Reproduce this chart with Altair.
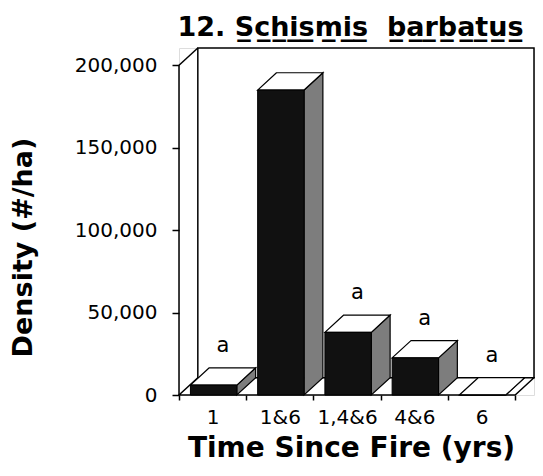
import json
import altair as alt
import pandas as pd

# ---- data ----
categories = ["1", "1&6", "1,4&6", "4&6", "6"]
density = [6000, 185000, 38000, 22500, 0]
letters = ["a", "", "a", "a", "a"]
y_ticks = [0, 50000, 100000, 150000, 200000]

# ---- 3-D geometry (in data units) ----
N = len(categories)
YMAX = 200000
DX = 0.28      # depth offset along x (category units)
DY = 10500     # depth offset along y (density units)
OFF = 0.17     # bar start within category
W = 0.69       # bar front width

FONT = "DejaVu Sans"

xs = alt.Scale(domain=[0, N + DX], nice=False, zero=False)
ys = alt.Scale(domain=[0, YMAX + DY], nice=False, zero=False)

label_list = json.dumps(categories)
xaxis = alt.Axis(
    values=[k * 0.5 for k in range(2 * N + 1)],
    labelExpr=f"datum.value % 1 == 0 ? '' : {label_list}[floor(datum.value)]",
    tickOpacity={"condition": {"test": "datum.value % 1 != 0", "value": 0}, "value": 1},
    domain=False, grid=False, tickSize=5, tickColor="black", tickWidth=1.5,
    labelPadding=7, labelFont=FONT, labelFontSize=20, labelColor="black",
    labelOverlap=False, labelFlush=False, labelBound=False,
    title="Time Since Fire (yrs)", titleFont=FONT, titleFontSize=28,
    titleFontWeight="bold", titleColor="black", titleX=172, titleY=61,
    titleAlign="center", titleBaseline="alphabetic", titleAnchor="middle",
)
yaxis = alt.Axis(
    values=y_ticks, format=",.0f",
    domain=False, grid=False, tickSize=7, tickColor="black", tickWidth=1.5,
    labelPadding=15, labelFont=FONT, labelFontSize=20, labelColor="black",
    labelOverlap=False, labelFlush=False,
    title="Density (#/ha)", titleFont=FONT, titleFontSize=27,
    titleFontWeight="bold", titleColor="black", titleAngle=270,
    titleX=-156, titleY=199, titleAlign="center", titleBaseline="middle",
)


def X(field="x"):
    return alt.X(f"{field}:Q", scale=xs, axis=xaxis)


def Y(field="y"):
    return alt.Y(f"{field}:Q", scale=ys, axis=yaxis)


# ---- frame ----
back = pd.DataFrame({"x": [DX], "x2": [N + DX], "y": [DY], "y2": [YMAX + DY]})
floor = pd.DataFrame({"y": [0, DY], "x": [0, DX], "x2": [N, N + DX]})
lines = pd.DataFrame({"x": [0, 0], "x2": [0, DX], "y": [0, YMAX], "y2": [YMAX, YMAX + DY]})

back_layer = alt.Chart(back).mark_rect(fill="white", stroke="black", strokeWidth=1.5).encode(
    x=X(), x2="x2:Q", y=Y(), y2="y2:Q")
floor_layer = alt.Chart(floor).mark_area(orient="horizontal", fill="white", stroke="black",
                                         strokeWidth=1.5, interpolate="linear").encode(
    y=Y(), x=X(), x2="x2:Q")
line_layer = alt.Chart(lines).mark_rule(color="black", strokeWidth=1.5).encode(
    x=X(), x2="x2:Q", y=Y(), y2="y2:Q")

# ---- bars ----
front_rows, top_rows, side_rows, text_rows = [], [], [], []
for i, (c, v, t) in enumerate(zip(categories, density, letters)):
    x0 = i + OFF
    x1 = x0 + W
    front_rows.append({"cat": c, "x": x0, "x2": x1, "y": 0, "y2": v})
    top_rows += [{"cat": c, "y": v, "x": x0, "x2": x1},
                 {"cat": c, "y": v + DY, "x": x0 + DX, "x2": x1 + DX}]
    side_rows += [{"cat": c, "x": x1, "y": v, "y2": 0},
                  {"cat": c, "x": x1 + DX, "y": v + DY, "y2": DY}]
    text_rows.append({"cat": c, "x": x0 + W / 2 + DX / 2, "y": v + DY, "t": t})

front = pd.DataFrame(front_rows)
top = pd.DataFrame(top_rows)
side = pd.DataFrame(side_rows)
texts = pd.DataFrame(text_rows)

side_layer = alt.Chart(side).mark_area(fill="#7d7d7d", stroke="black", strokeWidth=1.2,
                                       interpolate="linear").encode(
    x=X(), y=Y(), y2="y2:Q", detail="cat:N")
top_layer = alt.Chart(top).mark_area(orient="horizontal", fill="white", stroke="black",
                                     strokeWidth=1.2, interpolate="linear").encode(
    y=Y(), x=X(), x2="x2:Q", detail="cat:N")
front_layer = alt.Chart(front).mark_rect(fill="#111111", stroke="black", strokeWidth=1).encode(
    x=X(), x2="x2:Q", y=Y(), y2="y2:Q")
text_layer = alt.Chart(texts).mark_text(font=FONT, fontSize=21, color="black", dy=-22,
                                        baseline="middle").encode(
    x=X(), y=Y(), text="t:N")

title_text = ("12.\u00a0" + "".join(ch + "\u0332" for ch in "Schismis") + "\u00a0\u00a0"
              + "".join(ch + "\u0332" for ch in "barbatus"))

chart = alt.layer(
    back_layer, floor_layer, line_layer, side_layer, top_layer, front_layer, text_layer
).properties(
    width=355, height=347,
    autosize=alt.AutoSizeParams(type="none"),
    padding={"left": 171, "top": 40, "right": 1, "bottom": 73},
    title=alt.Title(text=title_text, font=FONT, fontSize=27, fontWeight="bold",
                    color="black", anchor="middle", frame="group", offset=11,
                    baseline="alphabetic", dx=-6, dy=34),
).configure_view(stroke=None).configure(background="white")

chart.save("out.html", embed_options={"renderer": "svg", "actions": False})
